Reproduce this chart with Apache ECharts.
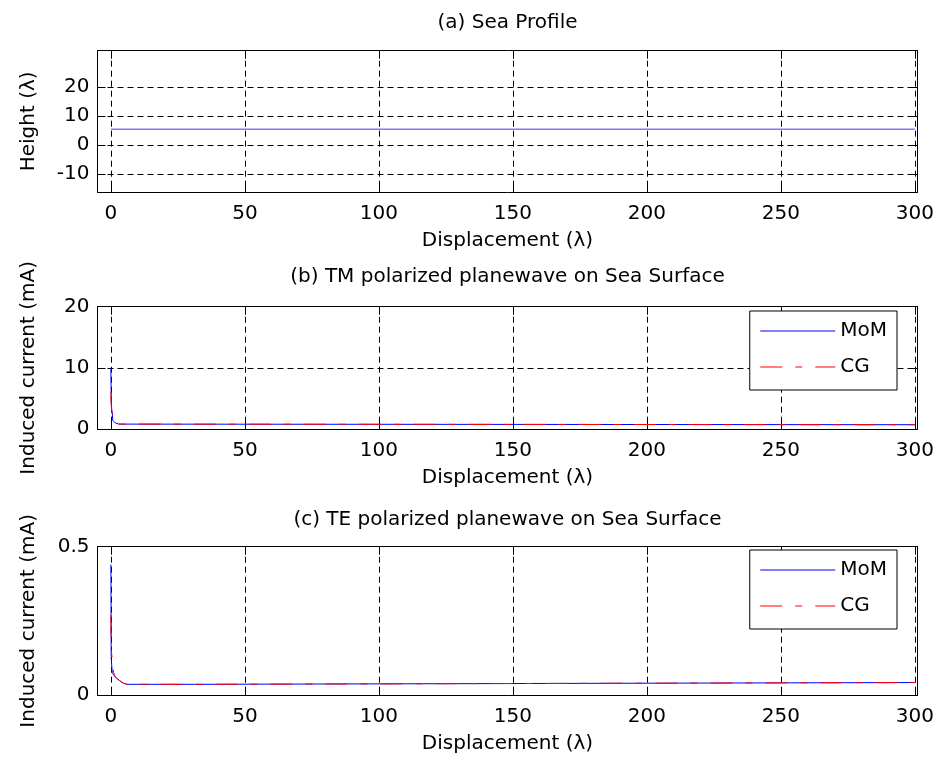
<!DOCTYPE html>
<html><head><meta charset="utf-8">
<script src="https://cdn.jsdelivr.net/npm/echarts@6/dist/echarts.min.js"></script>
<style>html,body{margin:0;padding:0;background:#fff}#c{width:941px;height:765px}</style>
</head><body><div id="c"></div>
<script>
// ---- data ----
const xTicks = [0, 50, 100, 150, 200, 250, 300];
const heightTicks = [-10, 0, 10, 20];
const tmTicks = [0, 10, 20];
const teTicks = [0, 0.5];

const seaX = [0, 300];
const seaH = [5.4, 5.4];

const tmMomX = [0, 0.05, 0.15, 0.3, 0.5, 0.65, 0.7, 1.0, 1.3, 1.6, 2.2, 3.0, 3.5, 300];
const tmMomY = [10, 7, 4.5, 3.2, 2.6, 2.4, 1.4, 1.3, 1.1, 1.0, 0.95, 0.8, 0.7, 0.7];
const tmCgX = [0, 0.1, 0.3, 0.5, 0.7, 0.8, 1.2, 1.6, 2.2, 3.0, 3.5, 300];
const tmCgY = [6, 4, 3, 2.6, 2.5, 2.2, 1.2, 1.0, 0.95, 0.8, 0.7, 0.7];

const teMomX = [0, 0.05, 0.1, 0.3, 0.45, 0.5, 1.0, 1.6, 2.3, 3.5, 4.6, 6, 31.2, 31.4, 300];
const teMomY = [0.44, 0.3, 0.13, 0.10, 0.10, 0.076, 0.068, 0.062, 0.055, 0.047, 0.040, 0.036, 0.036, 0.042, 0.042];
const teCgX = [0, 0.1, 0.3, 0.6, 0.7, 1.0, 1.6, 2.3, 3.5, 4.6, 6, 31.2, 31.4, 300];
const teCgY = [0.27, 0.16, 0.135, 0.125, 0.10, 0.075, 0.062, 0.055, 0.047, 0.040, 0.036, 0.036, 0.042, 0.042];

const titles = ['(a) Sea Profile', '(b) TM polarized planewave on Sea Surface', '(c) TE polarized planewave on Sea Surface'];
const xName = 'Displacement (\u03bb)';
const yNames = ['Height (\u03bb)', 'Induced current (mA)', 'Induced current (mA)'];
const seriesNames = ['MoM', 'CG'];

// ---- build ----
const FONT = 'DejaVu Sans';
const zip = (xs, ys) => xs.map((x, i) => [x, ys[i]]);
const txt = {fontFamily: FONT, fontSize: 20, color: '#000'};
const dash = {type: [6, 4], color: '#000', width: 1};

const grids = [
  {left: 97.5, right: 23.5, top: 50.7, height: 141.3},
  {left: 97.5, right: 23.5, top: 306.7, height: 122.3},
  {left: 97.5, right: 23.5, top: 546.7, height: 148.3}
];
const yRanges = [[-16.3, 32.6], [0, 20], [0, 0.5]];
const yTickSets = [heightTicks, tmTicks, teTicks];

const xAxis = [], yAxis = [];
grids.forEach((g, i) => {
  xAxis.push({
    type: 'value', gridIndex: i, min: -5, max: 301, position: 'bottom',
    name: xName, nameLocation: 'middle', nameGap: 39, nameTextStyle: txt,
    axisLine: {show: true, onZero: false, lineStyle: {color: '#000', width: 1}},
    axisTick: {show: true, inside: true, length: 8, customValues: xTicks, lineStyle: {color: '#000'}},
    axisLabel: {show: true, margin: 12, customValues: xTicks, ...txt},
    splitLine: {show: true, lineStyle: dash}
  });
  xAxis.push({
    type: 'value', gridIndex: i, min: -5, max: 301, position: 'top',
    axisLine: {show: true, onZero: false, lineStyle: {color: '#000', width: 1}},
    axisTick: {show: true, inside: true, length: 8, customValues: xTicks, lineStyle: {color: '#000'}},
    axisLabel: {show: false}, splitLine: {show: false}
  });
  yAxis.push({
    type: 'value', gridIndex: i, min: yRanges[i][0], max: yRanges[i][1], position: 'left',
    name: yNames[i], nameLocation: 'middle', nameGap: 59, nameRotate: 90, nameTextStyle: txt,
    axisLine: {show: true, onZero: false, lineStyle: {color: '#000', width: 1}},
    axisTick: {show: true, inside: true, length: 8, customValues: yTickSets[i], lineStyle: {color: '#000'}},
    axisLabel: {show: true, margin: 8, customValues: yTickSets[i], ...txt},
    splitLine: {show: true, lineStyle: dash}
  });
  yAxis.push({
    type: 'value', gridIndex: i, min: yRanges[i][0], max: yRanges[i][1], position: 'right',
    axisLine: {show: true, onZero: false, lineStyle: {color: '#000', width: 1}},
    axisTick: {show: true, inside: true, length: 8, customValues: yTickSets[i], lineStyle: {color: '#000'}},
    axisLabel: {show: false}, splitLine: {show: false}
  });
});

const momStyle = {color: '#0000ff', width: 1, type: 'solid'};
const cgStyle = {color: '#ff0000', width: 1, type: [22, 13, 7, 13]};
const mk = (name, data, xi, yi, ls, z) => ({
  name, type: 'line', xAxisIndex: xi, yAxisIndex: yi, data, symbol: 'none', showSymbol: false,
  lineStyle: ls, itemStyle: {color: ls.color}, animation: false, z, silent: true
});

const series = [
  mk('Sea', zip(seaX, seaH), 0, 0, {color: '#7a7aff', width: 1.5, type: 'solid'}, 3),
  mk(seriesNames[0], zip(tmMomX, tmMomY), 2, 2, momStyle, 3),
  mk(seriesNames[1], zip(tmCgX, tmCgY), 2, 2, cgStyle, 4),
  mk(seriesNames[0], zip(teMomX, teMomY), 4, 4, momStyle, 3),
  mk(seriesNames[1], zip(teCgX, teCgY), 4, 4, cgStyle, 4)
];

const legendBase = {
  data: seriesNames, orient: 'vertical', right: 44, itemWidth: 75, itemHeight: 14, itemGap: 14,
  padding: [9, 10, 12, 10], backgroundColor: '#fff', borderColor: '#000', borderWidth: 1, borderRadius: 0,
  textStyle: {...txt, lineHeight: 22}, selectedMode: false,
  itemStyle: {opacity: 0},
  lineStyle: {width: 1}
};

const option = {
  animation: false,
  backgroundColor: '#fff',
  title: titles.map((t, i) => ({
    text: t, left: 507.5, textAlign: 'center', top: [13, 267, 510][i], padding: 0,
    textStyle: {...txt, fontWeight: 'normal'}
  })),
  grid: grids,
  xAxis, yAxis, series,
  legend: [
    {...legendBase, top: 311},
    {...legendBase, top: 550}
  ]
};
const chart = echarts.init(document.getElementById('c'), null, {renderer: 'canvas'});
chart.setOption(option);
</script></body></html>
